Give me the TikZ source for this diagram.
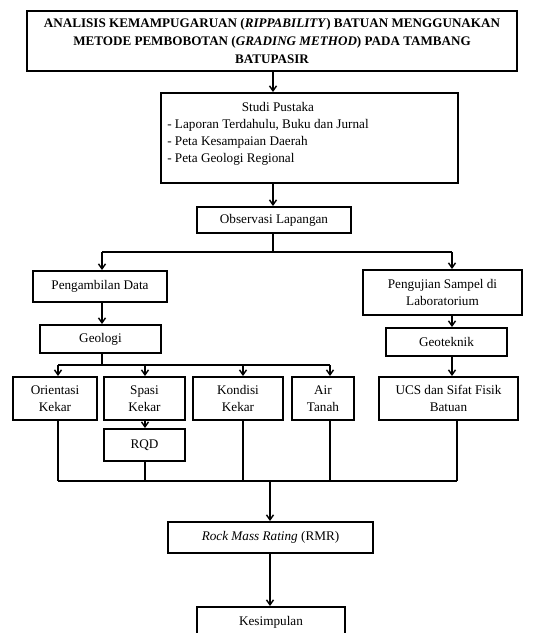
\documentclass[tikz,border=0pt]{standalone}
\usepackage{fontspec}
\setmainfont{Liberation Serif}
\usetikzlibrary{arrows.meta}
\begin{document}
\begin{tikzpicture}[x=1pt,y=1pt,
  box/.style={draw=black,line width=1.9pt,inner sep=0pt,align=center,
    font=\fontsize{13.2}{17}\selectfont},
  plain/.style={inner sep=0pt,align=center,font=\fontsize{13.2}{17}\selectfont},
  conn/.style={line width=1.4pt},
  arr/.style={line width=1.4pt,-{Straight Barb[length=5pt,width=7pt,line width=1.4pt]}}]
\clip (0,0) rectangle (553,-633);
\fill[white] (0,0) rectangle (553,-633);
% title
\node[box,minimum width=490pt,minimum height=60pt,font=\bfseries\fontsize{13.1}{18}\selectfont]
  (title) at (272,-41) {ANALISIS KEMAMPUGARUAN (\textit{RIPPABILITY}) BATUAN MENGGUNAKAN\\
  METODE PEMBOBOTAN (\textit{GRADING METHOD}) PADA TAMBANG\\BATUPASIR};
% studi pustaka
\node[box,minimum width=297pt,minimum height=90pt] (studi) at (309.5,-138) {};
\node[plain] (studitxt) at (268,-134) {\begin{tabular}{@{}l@{}}\multicolumn{1}{@{}c@{}}{\hspace*{20pt}Studi Pustaka}\\
  - Laporan Terdahulu, Buku dan Jurnal\\- Peta Kesampaian Daerah\\- Peta Geologi Regional\end{tabular}};
\node[box,minimum width=154pt,minimum height=26pt] (obs) at (274,-220) {Observasi Lapangan};
\node[box,minimum width=134pt,minimum height=31pt] (peng) at (100,-286.5) {Pengambilan Data};
\node[box,minimum width=159pt,minimum height=45pt] (lab) at (442.5,-292.5) {Pengujian Sampel di\\Laboratorium};
\node[box,minimum width=121pt,minimum height=28pt] (geo) at (100.5,-339) {Geologi};
\node[box,minimum width=121pt,minimum height=28pt] (geotek) at (446.5,-342) {Geoteknik};
\node[box,minimum width=84pt,minimum height=43pt] (orient) at (55,-398.5) {Orientasi\\Kekar};
\node[box,minimum width=81pt,minimum height=43pt] (spasi) at (144.5,-398.5) {Spasi\\Kekar};
\node[box,minimum width=90pt,minimum height=43pt] (kondisi) at (238,-398.5) {Kondisi\\Kekar};
\node[box,minimum width=62pt,minimum height=43pt] (air) at (323,-398.5) {Air\\Tanah};
\node[box,minimum width=139pt,minimum height=43pt] (ucs) at (448.5,-398.5) {UCS dan Sifat Fisik\\Batuan};
\node[box,minimum width=81pt,minimum height=32pt] (rqd) at (144.5,-445) {RQD};
\node[box,minimum width=205pt,minimum height=31pt] (rmr) at (270.5,-537.5) {\textit{Rock Mass Rating} (RMR)};
\node[box,minimum width=148pt,minimum height=30pt] (kes) at (271,-622) {Kesimpulan};
% coordinates
\coordinate (xa) at (273,0);
\coordinate (b1) at (273,-252);
\coordinate (b1l) at (102,-252);
\coordinate (b1r) at (452,-252);
\coordinate (xgeo) at (102,0);
\coordinate (b2) at (102,-365);
\coordinate (b2a) at (58,-365);
\coordinate (b2b) at (145,-365);
\coordinate (b2c) at (243,-365);
\coordinate (b2d) at (330,-365);
\coordinate (xlab) at (452,0);
\coordinate (b3a) at (58,-481);
\coordinate (b3b) at (145,-481);
\coordinate (b3c) at (243,-481);
\coordinate (b3d) at (330,-481);
\coordinate (b3e) at (457,-481);
\coordinate (b3m) at (270,-481);
% connectors
\draw[arr] (title.south -| xa) -- (studi.north -| xa);
\draw[arr] (studi.south -| xa) -- (obs.north -| xa);
\draw[conn] (obs.south -| xa) -- (b1);
\draw[conn] (b1l) -- (b1r);
\draw[arr] (b1l) -- (peng.north -| b1l);
\draw[arr] (b1r) -- (lab.north -| b1r);
\draw[arr] (peng.south -| xgeo) -- (geo.north -| xgeo);
\draw[conn] (geo.south -| xgeo) -- (b2);
\draw[conn] (b2a) -- (b2d);
\draw[arr] (b2a) -- (orient.north -| b2a);
\draw[arr] (b2b) -- (spasi.north -| b2b);
\draw[arr] (b2c) -- (kondisi.north -| b2c);
\draw[arr] (b2d) -- (air.north -| b2d);
\draw[arr] (lab.south -| xlab) -- (geotek.north -| xlab);
\draw[arr] (geotek.south -| xlab) -- (ucs.north -| xlab);
\draw[arr] (spasi.south -| b2b) -- (rqd.north -| b2b);
\draw[conn] (orient.south -| b3a) -- (b3a);
\draw[conn] (rqd.south -| b3b) -- (b3b);
\draw[conn] (kondisi.south -| b3c) -- (b3c);
\draw[conn] (air.south -| b3d) -- (b3d);
\draw[conn] (ucs.south -| b3e) -- (b3e);
\draw[conn] (b3a) -- (b3e);
\draw[arr] (b3m) -- (rmr.north -| b3m);
\draw[arr] (rmr.south -| b3m) -- (kes.north -| b3m);
\end{tikzpicture}
\end{document}
